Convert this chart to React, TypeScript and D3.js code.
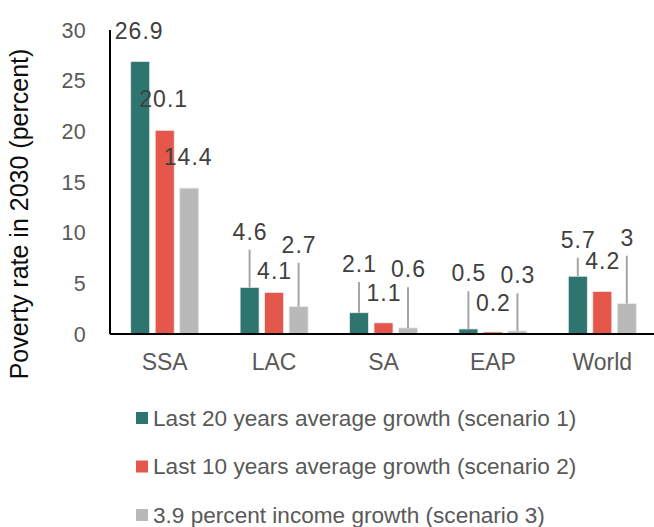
import React from "react";
import * as d3 from "d3";

const categories = ["SSA", "LAC", "SA", "EAP", "World"];
const seriesNames = [
  "Last 20 years average growth (scenario 1)",
  "Last 10 years average growth (scenario 2)",
  "3.9 percent income growth (scenario 3)",
];
const scenario1 = [26.9, 4.6, 2.1, 0.5, 5.7];
const scenario2 = [20.1, 4.1, 1.1, 0.2, 4.2];
const scenario3 = [14.4, 2.7, 0.6, 0.3, 3];
const labels1 = ["26.9", "4.6", "2.1", "0.5", "5.7"];
const labels2 = ["20.1", "4.1", "1.1", "0.2", "4.2"];
const labels3 = ["14.4", "2.7", "0.6", "0.3", "3"];
const yTicks = [0, 5, 10, 15, 20, 25, 30];

// label placement (hand-placed, in axis units) for the data labels
const labelAt1 = [29.9, 10.1, 6.9, 6.0, 9.3];
const labelAt2 = [23.2, 6.2, 4.05, 3.06, 7.2];
const labelAt3 = [17.5, 8.8, 6.4, 5.8, 9.5];

const colors = ["#2e756f", "#e4574a", "#b9b9b9"];
const FONT = "'Liberation Sans', Arial, sans-serif";

export default function App() {
  const width = 654;
  const height = 527;
  const x0 = 110;
  const x1 = 657;
  const yTop = 30;
  const yBase = 334;

  const x = d3.scaleBand<string>().domain(categories).range([x0, x1]).paddingInner(0).paddingOuter(0);
  const y = d3.scaleLinear().domain([0, 30]).range([yBase, yTop]);
  const barW = 19;
  const gap = 5.5;
  const series = [scenario1, scenario2, scenario3];
  const labelTexts = [labels1, labels2, labels3];
  const labelAts = [labelAt1, labelAt2, labelAt3];

  const barX = (ci: number, si: number) =>
    (x(categories[ci]) as number) + x.bandwidth() / 2 + (si - 1) * (barW + gap) - barW / 2;

  return (
    <svg width={width} height={height} style={{ position: "absolute", left: 0, top: 0, background: "#fff" }}>
      {/* y title */}
      <text
        transform={`translate(28,214) rotate(-90)`}
        textAnchor="middle"
        fontFamily={FONT}
        fontSize={25}
        fill="#0d0d0d"
      >
        Poverty rate in 2030 (percent)
      </text>
      {/* y tick labels */}
      {yTicks.map((t) => (
        <text
          key={t}
          x={86}
          y={y(t)}
          dy="0.35em"
          textAnchor="end"
          fontFamily={FONT}
          fontSize={21.5}
          letterSpacing={0.3}
          fill="#595959"
        >
          {t}
        </text>
      ))}
      {/* bars */}
      {series.map((vals, si) =>
        vals.map((v, ci) => (
          <rect
            key={`b${si}-${ci}`}
            x={barX(ci, si)}
            y={y(v)}
            width={barW}
            height={yBase - y(v)}
            fill={colors[si]}
            stroke="#e8ecec"
            strokeWidth={0.8}
          />
        ))
      )}
      {/* leader lines & labels */}
      {series.map((vals, si) =>
        vals.map((v, ci) => {
          const cx = barX(ci, si) + barW / 2;
          const ly = y(labelAts[si][ci]);
          const lineStart = ly + 18;
          const barTop = y(v);
          return (
            <g key={`l${si}-${ci}`}>
              {barTop - lineStart > 14 && (
                <line x1={cx} x2={cx} y1={lineStart} y2={barTop} stroke="#a6a6a6" strokeWidth={2} />
              )}
              <text
                x={cx - (ci === 0 ? 1.5 : 0) + 0.5}
                y={ly}
                dy="0.35em"
                textAnchor="middle"
                fontFamily={FONT}
                fontSize={23}
                letterSpacing={1}
                fill="#404040"
              >
                {labelTexts[si][ci]}
              </text>
            </g>
          );
        })
      )}
      {/* axes */}
      <line x1={x0} x2={x0} y1={yTop} y2={yBase} stroke="#000" strokeWidth={2} />
      <line x1={x0} x2={width} y1={yBase} y2={yBase} stroke="#000" strokeWidth={2} />
      {categories.map((c) => (
        <text
          key={c}
          x={(x(c) as number) + x.bandwidth() / 2}
          y={362}
          dy="0.35em"
          textAnchor="middle"
          fontFamily={FONT}
          fontSize={23}
          fill="#595959"
        >
          {c}
        </text>
      ))}
      {/* legend */}
      {seriesNames.map((n, i) => (
        <g key={n} transform={`translate(136,${418 + i * 48.5})`}>
          <rect x={0} y={-6} width={12} height={12} fill={colors[i]} />
          <text x={17} y={0} dy="0.35em" fontFamily={FONT} fontSize={22.6} fill="#595959">
            {n}
          </text>
        </g>
      ))}
    </svg>
  );
}
